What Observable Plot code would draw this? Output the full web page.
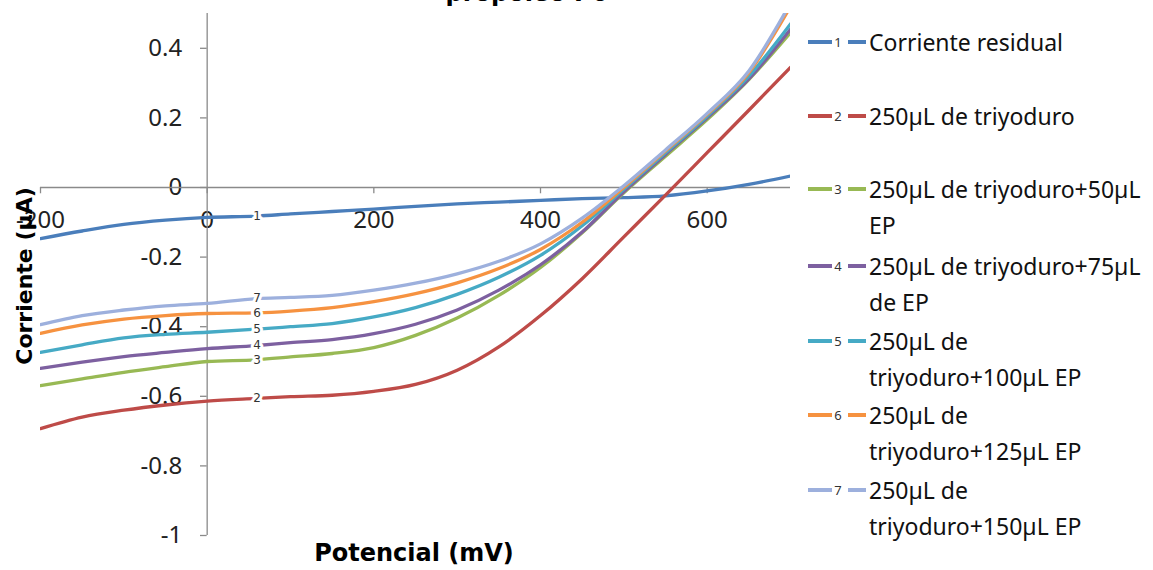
<!DOCTYPE html>
<html>
<head>
<meta charset="utf-8">
<script src="https://cdn.jsdelivr.net/npm/d3@7"></script>
<script src="https://cdn.jsdelivr.net/npm/@observablehq/plot@0.6"></script>
<style>
  html, body { margin: 0; padding: 0; background: #fff; }
  #wrap { position: relative; width: 1153px; height: 570px; overflow: hidden; background: #fff; font-family: "Noto Sans", sans-serif; }
  #chart { position: absolute; left: 0; top: 0; }
  .title { position: absolute; left: 527px; top: -22px; transform: translateX(-50%); font: bold 24px "DejaVu Sans", sans-serif; color: #000; white-space: nowrap; line-height: 30px; }
  .xtitle { position: absolute; left: 414px; top: 553px; transform: translate(-50%, -50%); font: bold 24px "DejaVu Sans", sans-serif; color: #000; white-space: nowrap; }
  .ytitle { position: absolute; left: 24px; top: 276px; transform: translate(-50%, -50%) rotate(-90deg); font: bold 22px "DejaVu Sans", sans-serif; color: #000; white-space: nowrap; }
  .entry { position: absolute; left: 806px; display: flex; align-items: flex-start; }
  .entry .txt { font-family: "Noto Sans", sans-serif; font-size: 23px; line-height: 36px; color: #111; white-space: nowrap; }
</style>
</head>
<body>
<div id="wrap">
  <div id="chart"></div>
  <div class="title">propóleo P0</div>
  <div class="xtitle">Potencial (mV)</div>
  <div class="ytitle">Corriente (µA)</div>
  <div id="legend"></div>
</div>
<script>
// ---- data ----
const potentials = [-200, -150, -100, -50, 0, 60, 100, 150, 200, 250, 300, 350, 400, 450, 500, 550, 600, 650, 700];

const residual   = [-0.147, -0.125, -0.106, -0.094, -0.086, -0.082, -0.076, -0.069, -0.062, -0.054, -0.047, -0.042, -0.037, -0.032, -0.029, -0.024, -0.010, 0.009, 0.033];
const tri250     = [-0.693, -0.660, -0.640, -0.625, -0.614, -0.606, -0.601, -0.597, -0.586, -0.566, -0.525, -0.458, -0.368, -0.262, -0.142, -0.022, 0.100, 0.222, 0.345];
const tri50EP    = [-0.569, -0.550, -0.531, -0.515, -0.500, -0.495, -0.487, -0.477, -0.460, -0.425, -0.375, -0.310, -0.230, -0.130, -0.015, 0.090, 0.195, 0.310, 0.445];
const tri75EP    = [-0.520, -0.502, -0.486, -0.474, -0.463, -0.454, -0.446, -0.437, -0.420, -0.393, -0.352, -0.295, -0.222, -0.128, -0.012, 0.095, 0.200, 0.312, 0.455];
const tri100EP   = [-0.474, -0.452, -0.432, -0.422, -0.416, -0.407, -0.400, -0.391, -0.372, -0.345, -0.307, -0.258, -0.195, -0.110, -0.005, 0.100, 0.205, 0.320, 0.470];
const tri125EP   = [-0.419, -0.395, -0.378, -0.368, -0.362, -0.360, -0.355, -0.345, -0.328, -0.305, -0.274, -0.233, -0.178, -0.100, 0.000, 0.105, 0.210, 0.330, 0.520];
const tri150EP   = [-0.394, -0.368, -0.352, -0.340, -0.333, -0.319, -0.316, -0.310, -0.295, -0.275, -0.248, -0.212, -0.162, -0.088, 0.005, 0.108, 0.213, 0.335, 0.530];

const seriesIds = ["1", "2", "3", "4", "5", "6", "7"];
const seriesLegend = [
  ["Corriente residual"],
  ["250µL de triyoduro"],
  ["250µL de triyoduro+50µL", "EP"],
  ["250µL de triyoduro+75µL", "de EP"],
  ["250µL de", "triyoduro+100µL EP"],
  ["250µL de", "triyoduro+125µL EP"],
  ["250µL de", "triyoduro+150µL EP"]
];
const seriesColors = ["#4A7EBB", "#BE4B48", "#98B954", "#7D60A0", "#46AAC5", "#F69240", "#9DB0DD"];
const labelPotential = 60;

const xTicks = [-200, 0, 200, 400, 600];
const xTickLabels = ["-200", "0", "200", "400", "600"];
const yTicks = [0.4, 0.2, 0, -0.2, -0.4, -0.6, -0.8, -1];
const yTickLabels = ["0.4", "0.2", "0", "-0.2", "-0.4", "-0.6", "-0.8", "-1"];

// ---- build table ----
const allSeries = [residual, tri250, tri50EP, tri75EP, tri100EP, tri125EP, tri150EP];
const rows = allSeries.flatMap((vals, i) => potentials.map((x, j) => ({x, y: vals[j], s: seriesIds[i]})));
const labelRows = rows.filter(d => d.x === labelPotential);

const axisColor = "#8a8a8a";

const chart = Plot.plot({
  width: 800,
  height: 570,
  marginLeft: 40,
  marginRight: 10,
  marginTop: 13,
  marginBottom: 35,
  style: {fontFamily: "Noto Sans, sans-serif", background: "transparent", overflow: "visible"},
  x: {domain: [-200, 700], axis: null},
  y: {domain: [-1, 0.5], axis: null},
  color: {domain: seriesIds, range: seriesColors},
  marks: [
    Plot.text(yTicks, {x: 0, y: d => d, text: (d, i) => yTickLabels[i], textAnchor: "end", dx: -25, fontSize: 24, fill: "#222"}),
    Plot.text(xTicks, {x: d => d, y: 0, text: (d, i) => xTickLabels[i], dy: 33, fontSize: 24, fill: "#222"}),
    Plot.ruleY([0], {stroke: axisColor, strokeWidth: 1.3}),
    Plot.ruleX(xTicks, {x: d => d, y1: 0, y2: -0.018, stroke: axisColor, strokeWidth: 1.3}),
    Plot.ruleX([0], {stroke: axisColor, strokeWidth: 1.3}),
    Plot.ruleY(yTicks, {y: d => d, x1: 0, x2: -8, stroke: axisColor, strokeWidth: 1.3}),
    Plot.line(rows, {x: "x", y: "y", z: "s", stroke: "s", strokeWidth: 3.3, curve: "monotone-x", clip: true}),
    Plot.text(labelRows, {x: "x", y: "y", text: "s", fontSize: 12, fontFamily: "DejaVu Sans", fill: "#333", stroke: "white", strokeWidth: 6})
  ]
});
document.getElementById("chart").appendChild(chart);

// ---- legend ----
const legendTops = [42, 116, 189, 266, 341, 415, 490];
const legend = document.getElementById("legend");
seriesIds.forEach((id, i) => {
  const e = document.createElement("div");
  e.className = "entry";
  e.style.top = (legendTops[i] - 18) + "px";
  const c = seriesColors[i];
  e.innerHTML = `<svg width="63" height="36" style="flex:none">
      <line x1="2" x2="26" y1="18" y2="18" stroke="${c}" stroke-width="4"/>
      <text x="32" y="23" font-size="13" font-family="Noto Sans" fill="#333" text-anchor="middle">${id}</text>
      <line x1="42" x2="60" y1="18" y2="18" stroke="${c}" stroke-width="4"/>
    </svg><div class="txt">${seriesLegend[i].join("<br>")}</div>`;
  legend.appendChild(e);
});
</script>
</body>
</html>
